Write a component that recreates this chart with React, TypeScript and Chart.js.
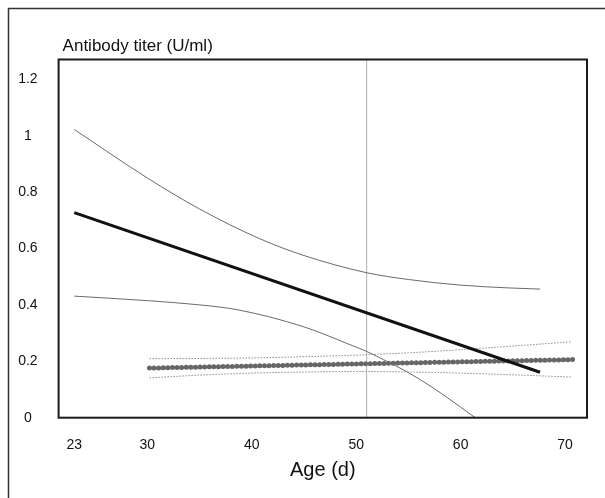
import React, { useEffect, useRef } from "react";
import { Chart, registerables } from "chart.js";

Chart.register(...registerables);

// ---- data ----
const xTickValues = [23, 30, 40, 50, 60, 70];
const yTickValues = [0, 0.2, 0.4, 0.6, 0.8, 1, 1.2];
const yTickLabels = ["0", "0.2", "0.4", "0.6", "0.8", "1", "1.2"];

const fitAge = [23, 67.6];
const fitTiter = [0.727, 0.161];

const upperAge = [23, 30, 35, 40.8, 45, 51, 55, 60, 64.7, 67.6];
const upperTiter = [1.022, 0.85, 0.74, 0.634, 0.575, 0.514, 0.49, 0.47, 0.46, 0.456];

const lowerAge = [23, 30, 35, 38.6, 45, 49.4, 51, 52.6, 54.8, 57.4, 59.9, 61.4];
const lowerTiter = [0.431, 0.415, 0.4, 0.383, 0.322, 0.259, 0.235, 0.206, 0.164, 0.105, 0.04, 0.0];

const refAge = [30.2, 70.8];
const refTiter = [0.176, 0.206];

const refUpperAge = [30.2, 40, 50, 55, 60, 65, 70.6];
const refUpperTiter = [0.209, 0.212, 0.222, 0.23, 0.241, 0.254, 0.269];

const refLowerAge = [30.2, 35, 40, 45, 50, 55, 60, 65, 70.6];
const refLowerTiter = [0.141, 0.151, 0.158, 0.162, 0.164, 0.162, 0.158, 0.152, 0.144];

const markerAge = [51, 51];
const markerTiter = [0, 1.27];

const X_MIN = 21.5;
const X_MAX = 72.1;
const Y_MIN = 0;
const Y_MAX = 1.27;

const yTitle = "Antibody titer (U/ml)";
const xTitle = "Age (d)";

const FONT = "'Liberation Sans', Arial, Helvetica, sans-serif";

const pts = (xs: number[], ys: number[]) => xs.map((x, i) => ({ x, y: ys[i] }));

export default function App() {
  const ref = useRef<HTMLCanvasElement | null>(null);

  useEffect(() => {
    const canvas = ref.current;
    if (!canvas) return;

    const framePlugin = {
      id: "framePlugin",
      beforeDraw(chart: any) {
        const ctx = chart.ctx;
        ctx.save();
        ctx.fillStyle = "#ffffff";
        ctx.fillRect(0, 0, chart.width, chart.height);
        ctx.restore();
      },
      afterDraw(chart: any) {
        const ctx = chart.ctx;
        const a = chart.chartArea;
        ctx.save();
        // outer frame
        ctx.strokeStyle = "#333333";
        ctx.lineWidth = 1.5;
        ctx.strokeRect(8.5, 8.5, 640, 540);
        // plot frame
        ctx.strokeStyle = "#1a1a1a";
        ctx.lineWidth = 2;
        ctx.strokeRect(a.left, a.top, a.right - a.left, a.bottom - a.top);
        // y title
        ctx.fillStyle = "#111111";
        ctx.font = `17px ${FONT}`;
        ctx.textAlign = "left";
        ctx.textBaseline = "middle";
        ctx.fillText(yTitle, a.left + 4, 46);
        ctx.restore();
      },
    };

    const chart = new Chart(canvas, {
      type: "scatter",
      data: {
        datasets: [
          {
            data: pts(fitAge, fitTiter),
            showLine: true,
            borderColor: "#111111",
            borderWidth: 3,
            pointRadius: 0,
          },
          {
            data: pts(upperAge, upperTiter),
            showLine: true,
            borderColor: "#6a6a6a",
            borderWidth: 1,
            pointRadius: 0,
            cubicInterpolationMode: "monotone",
          },
          {
            data: pts(lowerAge, lowerTiter),
            showLine: true,
            borderColor: "#6a6a6a",
            borderWidth: 1,
            pointRadius: 0,
            cubicInterpolationMode: "monotone",
          },
          {
            data: pts(refAge, refTiter),
            showLine: true,
            borderColor: "#666666",
            borderWidth: 5,
            borderDash: [0, 4.6],
            borderCapStyle: "round",
            pointRadius: 0,
          },
          {
            data: pts(refUpperAge, refUpperTiter),
            showLine: true,
            borderColor: "#8c8c8c",
            borderWidth: 1,
            borderDash: [1.5, 1.5],
            pointRadius: 0,
            cubicInterpolationMode: "monotone",
          },
          {
            data: pts(refLowerAge, refLowerTiter),
            showLine: true,
            borderColor: "#8c8c8c",
            borderWidth: 1,
            borderDash: [1.5, 1.5],
            pointRadius: 0,
            cubicInterpolationMode: "monotone",
          },
          {
            data: pts(markerAge, markerTiter),
            showLine: true,
            borderColor: "#b0b0b0",
            borderWidth: 1,
            pointRadius: 0,
          },
        ],
      },
      options: {
        animation: false,
        responsive: false,
        events: [],
        layout: { padding: { left: 0, top: 59.5, right: 18, bottom: 0.3 } },
        plugins: {
          legend: { display: false },
          tooltip: { enabled: false },
          title: { display: false },
        },
        scales: {
          x: {
            type: "linear",
            min: X_MIN,
            max: X_MAX,
            grid: { display: false },
            border: { display: false },
            afterBuildTicks: (s: any) => {
              s.ticks = xTickValues.map((v) => ({ value: v }));
            },
            afterFit: (s: any) => {
              s.height = 80;
            },
            ticks: {
              padding: 11,
              color: "#111111",
              font: { family: FONT, size: 14 },
              maxRotation: 0,
              autoSkip: false,
              callback: (v: any) => String(v),
            },
            title: {
              display: true,
              text: xTitle,
              color: "#111111",
              font: { family: FONT, size: 20 },
              padding: { top: 0, bottom: 15 },
            },
          },
          y: {
            type: "linear",
            min: Y_MIN,
            max: Y_MAX,
            grid: { display: false },
            border: { display: false },
            afterBuildTicks: (s: any) => {
              s.ticks = yTickValues.map((v) => ({ value: v }));
            },
            afterFit: (s: any) => {
              s.width = 58.6;
            },
            ticks: {
              padding: 13,
              crossAlign: "center",
              color: "#111111",
              font: { family: FONT, size: 14 },
              autoSkip: false,
              callback: (_v: any, i: number) => yTickLabels[i],
            },
          },
        },
      },
      plugins: [framePlugin],
    } as any);

    return () => chart.destroy();
  }, []);

  return (
    <div style={{ position: "fixed", left: 0, top: 0, width: 605, height: 498, overflow: "hidden" }}>
      <canvas ref={ref} width={605} height={498} style={{ display: "block" }} />
    </div>
  );
}
